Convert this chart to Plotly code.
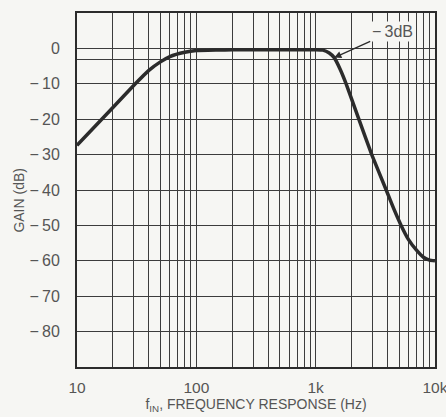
import math
import plotly.graph_objects as go

# curve (Hz, dB)
freq_hz = [10, 20, 30.8, 40, 50, 60, 80, 100, 150, 200, 500,
           1000, 1150, 1300, 1430, 1600, 1800, 2300, 2950, 3900,
           4500, 5200, 6000, 7000, 8000, 9000, 10000]
gain_db = [-27.4, -16.7, -10, -6.2, -3.8, -2.3, -1.1, -0.6, -0.45, -0.4, -0.4,
           -0.4, -0.5, -1.3, -2.6, -5.8, -10, -20, -30, -40,
           -45.2, -50, -54, -57, -59, -59.8, -60]

x_grid = [m * 10 ** d for d in (1, 2, 3) for m in range(1, 10)] + [10000]
x_labels = {10: "10", 100: "100", 1000: "1k", 10000: "10k"}
y_grid = [10, 0, -3, -10, -20, -30, -40, -50, -60, -70, -80, -90]
y_labels = {0: "0", -10: "\u2212\u200910", -20: "\u2212\u200920", -30: "\u2212\u200930",
            -40: "\u2212\u200940", -50: "\u2212\u200950", -60: "\u2212\u200960",
            -70: "\u2212\u200970", -80: "\u2212\u200980"}
marker_freq = 1430
marker_gain = -2.6

BG = "#f6f6f3"
INK = "#2b2b2b"
GRID = "#3c3c3c"
TXT = "#555555"
FONT = "Liberation Sans, Arial, sans-serif"

fig = go.Figure()

fig.add_trace(go.Scatter(
    x=freq_hz,
    y=gain_db,
    mode="lines",
    line=dict(color=INK, width=3.5, shape="spline", smoothing=0.4),
    showlegend=False,
    hoverinfo="skip",
))

fig.add_annotation(
    x=math.log10(marker_freq), y=marker_gain,
    xref="x", yref="y",
    text="\u2212\u20093dB",
    showarrow=True, arrowhead=2, arrowsize=1.1, arrowwidth=1.3, arrowcolor=INK,
    ax=58, ay=-26,
    bgcolor=BG, borderpad=1,
    font=dict(size=16, color=TXT, family=FONT),
)

# y title placed by hand, sits a little below the plot centre
fig.add_annotation(
    text="GAIN (dB)",
    xref="paper", yref="paper",
    x=-0.162, y=0.47,
    xanchor="center", yanchor="middle",
    textangle=-90, showarrow=False,
    font=dict(size=14, color=TXT, family=FONT),
)

fig.update_layout(
    width=446,
    height=417,
    margin=dict(l=77, r=11, t=13, b=50),
    paper_bgcolor=BG,
    plot_bgcolor=BG,
    font=dict(family=FONT, color=TXT, size=16),
    xaxis=dict(
        type="log",
        range=[1, 4],
        tickvals=x_grid,
        ticktext=[x_labels.get(v, "") for v in x_grid],
        showgrid=True,
        gridcolor=GRID,
        gridwidth=1.3,
        showline=True,
        linecolor=INK,
        linewidth=2,
        mirror=True,
        zeroline=False,
        ticks="",
        ticklabelstandoff=5,
        ticklabeloverflow="allow",
        tickfont=dict(size=15.5, color=TXT),
        title=dict(text="f<sub>IN</sub>, FREQUENCY RESPONSE (Hz)",
                   font=dict(size=14, color=TXT), standoff=4),
        automargin=False,
    ),
    yaxis=dict(
        range=[-90, 10],
        tickvals=y_grid,
        ticktext=[y_labels.get(v, "") for v in y_grid],
        showgrid=True,
        gridcolor=GRID,
        gridwidth=1.3,
        showline=True,
        linecolor=INK,
        linewidth=2,
        mirror=True,
        zeroline=False,
        ticks="",
        ticklabelstandoff=12,
        tickfont=dict(size=16, color=TXT),
        automargin=False,
    ),
)

# drop the default body margin so the figure fills the window exactly
fig.write_html(
    "out.html",
    config={"displayModeBar": False},
    post_script="document.body.style.margin='0';document.body.style.overflow='hidden';",
)
